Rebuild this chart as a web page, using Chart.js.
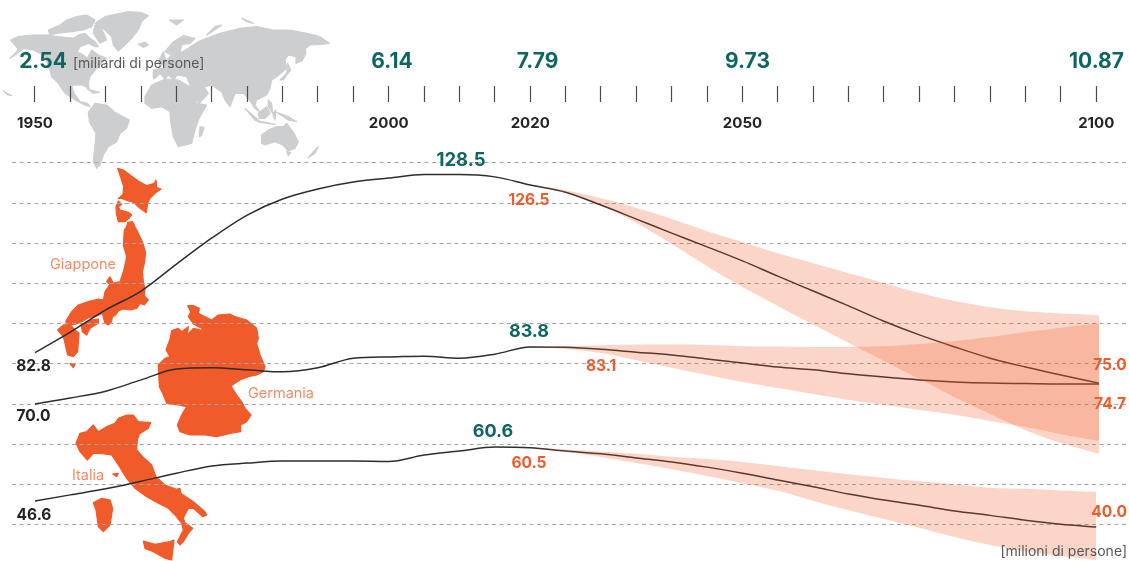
<!DOCTYPE html>
<html>
<head>
<meta charset="utf-8">
<title>Popolazione</title>
<style>
  html, body { margin: 0; padding: 0; background: #fff; overflow: hidden; }
  canvas { display: block; }
</style>
</head>
<body>
<canvas id="chart" width="1129" height="561"></canvas>
<script src="https://cdn.jsdelivr.net/npm/chart.js@4"></script>
<script>
var years = [1950, 1955, 1960, 1965, 1970, 1975, 1980, 1985, 1990, 1995, 2000, 2005, 2010, 2015, 2020,
  2025, 2030, 2035, 2040, 2045, 2050, 2055, 2060, 2065, 2070, 2075, 2080, 2085, 2090, 2095, 2100];
var bandYears = years.slice(14);
var tickYears = years;
var labelYears = [1950, 2000, 2020, 2050, 2100];
var gridValues = [40, 50, 60, 70, 80, 90, 100, 110, 120, 130];

// milioni di persone
var japan = [82.8, 87.9, 93.4, 98.1, 104.8, 111.3, 117.0, 121.0, 123.5, 125.2, 126.2, 127.1, 127.1, 126.5, 124.5,
  122.7, 119.5, 116.0, 112.5, 109.1, 105.6, 101.8, 98.1, 94.4, 90.6, 87.2, 84.2, 81.4, 79.2, 77.2, 75.2];
var japanHigh = [124.5, 123.2, 121.2, 118.8, 116.0, 113.0, 110.3, 107.5, 105.0, 102.5, 100.1, 97.6, 95.6, 94.1, 93.1, 92.5, 92.1];
var japanLow = [124.5, 122.5, 119.5, 115.0, 109.8, 104.3, 99.1, 94.4, 89.7, 85.2, 80.7, 76.2, 71.7, 67.5, 63.5, 60.3, 57.6];

var germany = [70.0, 71.5, 73.2, 76.0, 78.7, 79.0, 78.5, 78.0, 79.0, 81.4, 81.7, 81.9, 81.4, 82.4, 84.2,
  84.1, 83.6, 82.9, 82.2, 81.2, 80.2, 79.2, 78.5, 77.5, 76.7, 76.0, 75.5, 75.2, 75.1, 75.0, 75.0];
var germanyHigh = [84.2, 84.4, 84.6, 84.8, 84.8, 84.7, 84.4, 84.3, 84.2, 84.2, 84.4, 84.9, 85.7, 86.7, 87.9, 89.0, 90.1];
var germanyLow = [84.2, 83.7, 82.7, 80.9, 79.0, 77.2, 75.5, 74.0, 72.5, 71.0, 69.8, 68.5, 67.3, 65.8, 64.3, 62.5, 60.8];

var italy = [45.9, 47.4, 48.9, 50.8, 52.8, 54.6, 55.3, 55.8, 55.8, 55.8, 55.7, 57.3, 58.3, 59.3, 59.1,
  58.3, 57.6, 56.6, 55.6, 54.3, 52.8, 51.1, 49.4, 47.6, 46.1, 44.8, 43.4, 42.3, 41.1, 40.1, 39.4];
var italyHigh = [59.1, 58.7, 58.2, 57.6, 56.9, 56.3, 55.6, 54.6, 53.5, 52.5, 51.6, 50.8, 50.0, 49.2, 48.9, 48.5, 48.1];
var italyLow = [59.1, 58.1, 56.8, 55.3, 53.8, 52.1, 50.3, 48.4, 45.9, 43.6, 41.4, 39.2, 36.9, 34.9, 33.4, 32.2, 31.2];

var worldPop = ['2.54', '6.14', '7.79', '9.73', '10.87'];

var TEAL = '#0f6661', ORANGE = '#f15a29', SOFT = '#f58c66', DARK = '#222426', GREY = '#56585a';
var BAND = 'rgba(241,90,34,0.25)';
var FONT = 'Inter, "Open Sans", sans-serif';

// sagome decorative, in pixel x3 come ritagliate dal riferimento
var americas = [
  [285,55,315,35,385,20,420,22,445,32,425,50,415,75,395,100,370,125,355,138,340,120,335,95,315,75],
  [415,118,435,112,445,120,430,127],
  [32,105,55,95,95,90,145,90,175,95,220,100,240,88,255,85,270,100,285,110,295,125,285,125,265,115,240,125,232,140,250,150,262,160,275,135,295,150,320,160,300,178,290,190,270,215,265,235,268,255,258,245,245,240,225,240,215,242,222,265,240,290,262,295,270,305,250,298,225,285,195,265,175,235,155,215,145,180,130,150,100,135,70,130,45,150,30,160,55,135,45,120],
  [145,75,180,60,200,45,230,35,260,30,285,45,275,65,250,75,215,80,170,85,150,90],
  [285,60,300,60,320,105,300,115,280,85],
  [262,252,298,262,280,265],
  [265,322,285,295,320,300,345,322,388,345,380,370,360,385,350,410,325,425,310,450,300,480,290,490,280,470,285,420,288,385,268,350],
  [10,258,35,272,25,270]
];
var oldWorld = [
  [15,275,35,240,75,222,115,225,150,245,170,295,200,300,175,345,165,375,155,415,115,425,100,395,92,350,90,320,65,305,35,310,15,295],
  [180,365,192,368,185,390,178,395],
  [40,218,40,195,70,190,75,170,95,150,75,140,100,110,130,92,165,100,150,115,125,120,120,145,145,130,175,110,200,100,240,85,300,70,350,65,400,75,450,75,500,85,540,95,568,115,545,118,510,120,490,135,480,170,468,175,468,155,445,150,435,165,440,190,410,215,395,225,390,250,380,270,350,285,345,300,358,320,345,310,325,280,310,265,285,265,270,305,255,285,245,260,215,240,195,245,185,235,205,265,178,295,160,275,148,235,140,215,110,210,102,225,85,210,75,222,60,205,42,222],
  [478,150,495,130,498,145,485,170],
  [420,225,440,205,443,175,452,195,430,225],
  [55,170,70,140,80,175,58,182],
  [88,45,130,45,110,60],
  [200,90,225,65,245,60,215,80],
  [305,40,330,50,340,55,320,50],
  [385,285,395,295,398,325,385,305],
  [315,310,355,345,345,345],
  [355,325,380,305,390,325,375,340,358,340],
  [345,345,405,358,360,352],
  [398,325,408,315,405,345],
  [410,322,445,335,470,350,445,345],
  [365,390,385,375,410,365,430,365,440,355,462,385,475,410,465,430,445,438,428,420,405,410,375,420,365,415],
  [440,440,452,442,445,452],
  [505,458,520,440,535,425,525,445]
];
var japanShapes = [
  [188,10,205,15,225,30,250,48,275,62,298,55,303,45,305,68,318,72,300,85,285,100,278,115,274,143,255,130,235,112,212,105,200,100,190,100,204,88,206,65,198,40],
  [190,108,200,118,190,125,195,135,220,142,230,150,222,160,210,170,190,170,184,145,183,125],
  [218,172,233,170,240,185,250,205,262,230,272,262,268,295,262,320,265,350,270,372,268,392,280,405,268,420,255,415,245,430,225,435,205,432,190,438,182,450,172,455,170,470,160,480,150,475,142,445,120,455,100,458,80,470,60,478,40,480,32,470,50,440,70,420,100,410,130,402,145,405,150,380,165,358,155,350,165,335,175,355,195,350,205,320,210,300,215,275,205,240,208,195,215,185],
  [78,480,105,465,130,462,130,475,105,490,95,510,82,500],
  [8,495,25,480,45,478,60,495,72,505,70,530,68,560,55,575,38,570,30,535,25,515],
  [45,596,60,598,55,608]
];
var germanyShape = [[113,17,130,17,148,25,145,40,165,50,185,60,205,45,240,42,255,50,290,60,320,85,325,115,320,130,330,165,345,200,340,215,320,225,295,230,270,240,243,258,260,285,275,305,285,325,303,345,290,365,272,375,272,395,240,400,200,410,165,405,120,405,90,395,82,375,95,345,110,320,85,315,50,310,38,280,28,260,25,195,45,175,60,170,48,150,60,118,65,92,85,85,95,95,115,80,112,105,130,85,160,92,155,85,130,72,115,50,122,35]];
var italyShapes = [
  [145,25,170,15,190,15,205,35,242,38,235,55,208,72,202,90,200,120,218,140,245,165,258,200,285,225,320,238,330,235,332,250,370,275,405,305,410,315,398,320,370,295,355,295,340,325,345,338,368,355,355,370,340,395,330,405,322,395,340,360,335,340,315,315,295,295,265,280,230,260,195,235,170,205,145,165,125,135,90,130,70,130,52,150,30,125,18,100,30,70,50,65,70,45,85,65,110,50,135,40],
  [128,192,145,190,140,200],
  [70,278,95,265,120,270,128,295,120,345,100,365,85,350,78,300],
  [220,393,255,403,300,395,312,390,305,450,285,445,250,425,225,415]
];

function points(xs, ys, lastX) {
  return ys.map(function (y, i) {
    return { x: (lastX && i === ys.length - 1) ? lastX : xs[i], y: y };
  });
}

function band(high, low, lastX) {
  return [
    { data: points(bandYears, high, lastX), borderWidth: 0, pointRadius: 0, backgroundColor: BAND, fill: '+1', cubicInterpolationMode: 'monotone' },
    { data: points(bandYears, low, lastX), borderWidth: 0, pointRadius: 0, fill: false, cubicInterpolationMode: 'monotone' }
  ];
}

function line(values, lastX) {
  return { data: points(years, values, lastX), borderColor: '#2b2d2f', borderWidth: 1.5, pointRadius: 0, fill: false, cubicInterpolationMode: 'monotone' };
}

function drawShapes(ctx, shapes, color, offsetX, offsetY) {
  ctx.fillStyle = color;
  ctx.strokeStyle = color;
  ctx.lineWidth = 1.2;
  ctx.lineJoin = 'round';
  shapes.forEach(function (s) {
    ctx.beginPath();
    for (var i = 0; i < s.length; i += 2) {
      ctx.lineTo(offsetX + s[i] / 3, offsetY + s[i + 1] / 3);
    }
    ctx.closePath();
    ctx.fill();
    ctx.stroke();
  });
}

function text(ctx, str, x, y, color, font, align) {
  ctx.fillStyle = color;
  ctx.font = font;
  ctx.textAlign = align || 'center';
  ctx.textBaseline = 'middle';
  ctx.fillText(str, x, y);
}

var maps = {
  id: 'maps',
  beforeDraw: function (chart) {
    var ctx = chart.ctx;
    drawShapes(ctx, americas, '#cdced0', 0, 5);
    drawShapes(ctx, oldWorld, '#cdced0', 140, 5);
    drawShapes(ctx, japanShapes, ORANGE, 55, 165);
    drawShapes(ctx, germanyShape, ORANGE, 150, 300);
    drawShapes(ctx, italyShapes, ORANGE, 70, 410);
  }
};

var labels = {
  id: 'labels',
  afterDraw: function (chart) {
    var ctx = chart.ctx;
    var big = '700 21px ' + FONT, mid = '700 18px ' + FONT, small = '700 15.5px ' + FONT, soft = '400 14.5px ' + FONT, thin = '400 14px ' + FONT;
    var popX = [43, 392, 537.5, 747.5, 1096.5];
    worldPop.forEach(function (p, i) {
      text(ctx, p, popX[i], 62, TEAL, big);
    });
    text(ctx, '[miliardi di persone]', 73, 64, GREY, thin, 'left');
    text(ctx, '128.5', 461, 160, TEAL, '700 18.5px ' + FONT);
    text(ctx, '83.8', 529, 332, TEAL, mid);
    text(ctx, '60.6', 493, 432, TEAL, mid);
    text(ctx, '126.5', 529, 200, ORANGE, small);
    text(ctx, '83.1', 601, 366, ORANGE, small);
    text(ctx, '60.5', 529, 463, ORANGE, small);
    text(ctx, '82.8', 33.5, 366, DARK, small);
    text(ctx, '70.0', 33.5, 416, DARK, small);
    text(ctx, '46.6', 34, 515, DARK, small);
    text(ctx, '75.0', 1110, 365, ORANGE, small);
    text(ctx, '74.7', 1110, 404, ORANGE, small);
    text(ctx, '40.0', 1109, 512, ORANGE, small);
    text(ctx, 'Giappone', 83, 265, SOFT, soft);
    text(ctx, 'Germania', 281, 394, SOFT, soft);
    text(ctx, 'Italia', 88, 476, SOFT, soft);
    text(ctx, '[milioni di persone]', 1127, 552, GREY, thin, 'right');
  }
};

var datasets = [].concat(
  band(japanHigh, japanLow, 2100.4),
  band(germanyHigh, germanyLow, 2100.4),
  band(italyHigh, italyLow),
  [line(japan, 2100.4), line(germany, 2100.4), line(italy)]
);

new Chart(document.getElementById('chart').getContext('2d'), {
  type: 'line',
  data: { datasets: datasets },
  plugins: [maps, labels],
  options: {
    responsive: false,
    animation: false,
    layout: { padding: { left: 12, right: 2, top: 0, bottom: 0 } },
    plugins: { legend: { display: false }, tooltip: { enabled: false } },
    scales: {
      x: {
        type: 'linear',
        position: { y: 149.1 },
        min: 1946.75,
        max: 2104.35,
        afterBuildTicks: function (scale) {
          scale.ticks = tickYears.map(function (y) { return { value: y }; });
        },
        grid: { drawOnChartArea: false, drawTicks: true, tickLength: 16, tickWidth: 1.2, tickColor: '#4a4c4e' },
        border: { display: false },
        ticks: {
          autoSkip: false,
          maxRotation: 0,
          padding: 12,
          color: DARK,
          font: { family: FONT, size: 15, weight: '700' },
          callback: function (v) {
            return labelYears.indexOf(v) >= 0 ? String(v) : '';
          }
        }
      },
      y: {
        min: 30.95,
        max: 170.5,
        afterBuildTicks: function (scale) {
          scale.ticks = gridValues.map(function (v) { return { value: v }; });
        },
        grid: { color: '#a3a5a7', lineWidth: 1, drawTicks: false },
        border: { display: false, dash: [4, 3.5] },
        ticks: { display: false }
      }
    }
  }
});
</script>
</body>
</html>
